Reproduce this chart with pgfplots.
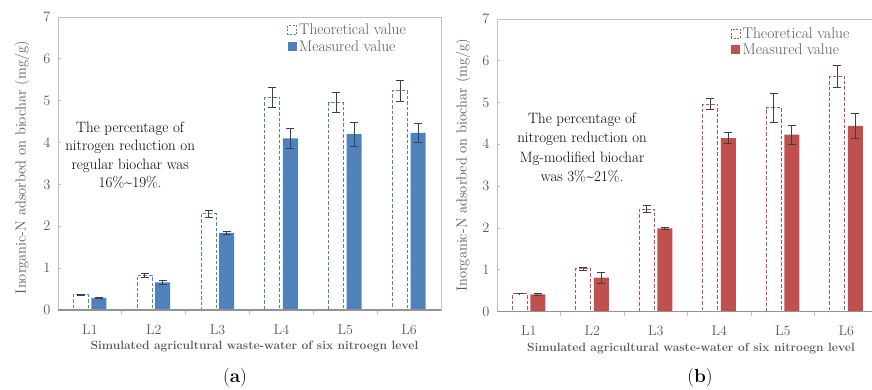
\documentclass[border=0pt]{standalone}
\usepackage{pgfplots}
\pgfplotsset{compat=1.18}
\definecolor{cblue}{HTML}{4F81BD}
\definecolor{cred}{HTML}{C0504D}
\definecolor{txtgray}{HTML}{595959}
\definecolor{axgray}{HTML}{BFBFBF}
\definecolor{errgray}{HTML}{404040}

\pgfplotstableread{
x th the me mee
1 0.36 0.02 0.29 0.02
2 0.83 0.05 0.66 0.04
3 2.30 0.09 1.84 0.03
4 5.08 0.24 4.10 0.24
5 4.95 0.24 4.20 0.29
6 5.24 0.25 4.23 0.22
}\dataA
\pgfplotstableread{
x th the me mee
1 0.43 0.01 0.41 0.02
2 1.02 0.04 0.81 0.13
3 2.45 0.08 1.99 0.02
4 4.96 0.13 4.15 0.14
5 4.88 0.35 4.23 0.23
6 5.62 0.27 4.44 0.31
}\dataB

\pgfplotsset{
  common/.style={
    scale only axis,
    axis lines=box,
    axis line style={draw=axgray, line width=0.8pt},
    ymin=0, ymax=7, xmin=0.5, xmax=6.5,
    ytick={0,1,...,7},
    xtick={1,...,6},
    xticklabels={L1,L2,L3,L4,L5,L6},
    major x tick style={draw=none},
    minor xtick={1.5,2.5,3.5,4.5,5.5},
    minor x tick style={draw=axgray, line width=0.8pt},
    minor tick length=5pt,
    major tick length=3pt,
    ytick style={draw=axgray, line width=0.8pt},
    xtick pos=bottom, ytick pos=left,
    tick label style={text=txtgray, font=\fontsize{14}{16}\selectfont},
    xticklabel style={yshift=-8pt},
    yticklabel style={xshift=-4pt},
    ylabel={Inorganic-N adsorbed on biochar (mg/g)},
    ylabel style={text=txtgray, font=\fontsize{14.5}{16}\selectfont, anchor=center, rotate=0},
    xlabel={\textbf{Simulated agricultural waste-water of six nitroegn level}},
    xlabel style={text=txtgray, font=\fontsize{12}{13}\selectfont, anchor=center},
    ybar=3pt, bar width=15pt,
    error bars/y dir=both, error bars/y explicit,
    error bars/error bar style={draw=errgray, line width=0.9pt, solid},
    error bars/error mark options={draw=errgray, line width=0.9pt, rotate=90, mark size=4pt, solid},
    legend style={draw=none, fill=none, anchor=north west, font=\fontsize{15.5}{17}\selectfont, text=txtgray, row sep=0pt, cells={anchor=west}},
    legend cell align=left,
    clip=false,
  },
}

\begin{document}
\begin{tikzpicture}
% panel (a)
\begin{axis}[common,
  at={(58pt,80pt)}, anchor=south west,
  width=383pt, height=293pt,
  ylabel style={at={(axis description cs:-0.094,0.486)}},
  xlabel style={at={(axis description cs:0.513,-0.126)}},
  legend style={at={(axis description cs:0.59,0.99)}},
]
\addplot[draw=cblue, fill=white, line width=1pt, dash pattern=on 3.5pt off 2pt,
  legend image code/.code={\draw[draw=cblue, fill=white, line width=1pt, dash pattern=on 2pt off 1.5pt] (0pt,-4.5pt) rectangle (9pt,4.5pt);}]
  table[x=x, y=th, y error=the]{\dataA};
\addlegendentry{Theoretical value}
\addplot[draw=none, fill=cblue,
  legend image code/.code={\fill[cblue] (0pt,-4.5pt) rectangle (9pt,4.5pt);}]
  table[x=x, y=me, y error=mee]{\dataA};
\addlegendentry{Measured value}
\draw[draw=gray!85, line width=1.2pt] (rel axis cs:0,0) -- (rel axis cs:1,0);
\node[align=center, font=\fontsize{15}{18.5}\selectfont, text=black] at (axis cs:1.63,3.70)
  {The percentage of\\nitrogen reduction on\\regular biochar was\\16\%\textasciitilde19\%.};
\end{axis}
% panel (b)
\begin{axis}[common,
  at={(497pt,78.5pt)}, anchor=south west,
  width=381pt, height=292.5pt,
  ylabel style={at={(axis description cs:-0.089,0.50)}},
  xlabel style={at={(axis description cs:0.509,-0.125)}},
  legend style={at={(axis description cs:0.605,0.985)}},
]
\addplot[draw=cred, fill=white, line width=1pt, dash pattern=on 3.5pt off 2pt,
  legend image code/.code={\draw[draw=cred, fill=white, line width=1pt, dash pattern=on 2pt off 1.5pt] (0pt,-4.5pt) rectangle (9pt,4.5pt);}]
  table[x=x, y=th, y error=the]{\dataB};
\addlegendentry{Theoretical value}
\addplot[draw=none, fill=cred,
  legend image code/.code={\fill[cred] (0pt,-4.5pt) rectangle (9pt,4.5pt);}]
  table[x=x, y=me, y error=mee]{\dataB};
\addlegendentry{Measured value}
\draw[draw=gray!85, line width=1.2pt] (rel axis cs:0,0) -- (rel axis cs:1,0);
\node[align=center, font=\fontsize{15}{19.5}\selectfont, text=black] at (axis cs:1.84,3.92)
  {The percentage of\\nitrogen reduction on\\Mg-modified biochar\\was 3\%\textasciitilde21\%.};
\end{axis}
\node[font=\fontsize{19}{21}\selectfont] at (235pt,12pt) {(\textbf{a})};
\node[font=\fontsize{19}{21}\selectfont] at (700pt,12pt) {(\textbf{b})};
\pgfresetboundingbox
\useasboundingbox (0pt,0pt) rectangle (872pt,390pt);
\end{tikzpicture}
\end{document}
